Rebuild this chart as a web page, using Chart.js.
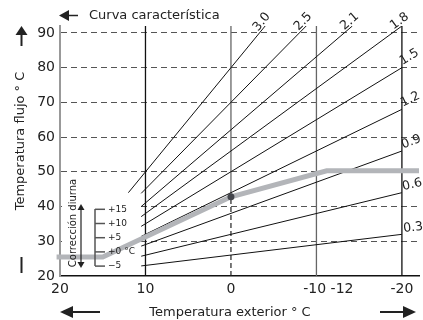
<!DOCTYPE html>
<html>
<head>
<meta charset="utf-8">
<script src="https://cdn.jsdelivr.net/npm/chart.js@4.4.1/dist/chart.umd.min.js"></script>
<style>
  html, body { margin: 0; padding: 0; background: #fff; }
  #wrap { width: 423px; height: 320px; }
</style>
</head>
<body>
<div id="wrap"><canvas id="heatingChart" width="423" height="320"></canvas></div>
<script>
// heating curves: slope label, start / end points (outdoor °C, flow °C)
const curveLabels = ["3.0", "2.5", "2.1", "1.8", "1.5", "1.2", "0.9", "0.6", "0.3"];
const curveStartOutdoor = [12, 10.5, 10.5, 10.5, 10.5, 10.5, 10.5, 10.5, 10.5];
const curveStartFlow = [44, 43.8, 40, 37.1, 34.3, 31.4, 28.6, 25.7, 22.9];
const curveEndOutdoor = [-4, -8.8, -14.2, -20, -20, -20, -20, -20, -20];
const curveEndFlow = [92, 92, 92, 92, 80, 68, 56, 44, 32];

// thick grey example curve
const setOutdoor = [20.4, 15, 0, -11.2, -22];
const setFlow = [25.5, 25.5, 42.8, 50.3, 50.3];
const pointOutdoor = [0];
const pointFlow = [42.8];

// vertical reference lines
const refOutdoor = [10, 0, -10, -20];

const xTickValues = [20, 10, 0, -11.4, -20];
const xTickLabels = ["20", "10", "0", "-10 -12", "-20"];
const yTickValues = [20, 30, 40, 50, 60, 70, 80, 90];
const correctionLabels = ["+15", "+10", "+5", "+0 °C", "\u22125"];

const FONT = "'DejaVu Sans', sans-serif";

const datasets = [];
datasets.push({
    data: pointOutdoor.map((x, i) => ({ x, y: pointFlow[i] })),
    showLine: false, pointRadius: 3.5, pointBackgroundColor: "#44464c",
    pointBorderWidth: 0, order: 0,
});
datasets.push({
    data: setOutdoor.map((x, i) => ({ x, y: setFlow[i] })),
    borderColor: "#b3b5b9", borderWidth: 5, pointRadius: 0,
    clip: { left: 5, top: 0, right: 0, bottom: 0 }, order: 1,
});
curveLabels.forEach((lbl, i) => {
    datasets.push({
        label: lbl,
        data: [
            { x: curveStartOutdoor[i], y: curveStartFlow[i] },
            { x: curveEndOutdoor[i], y: curveEndFlow[i] },
        ],
        borderColor: "#111", borderWidth: 1, pointRadius: 0, order: 2,
    });
});
refOutdoor.forEach((x) => {
    if (x === 0) {
        datasets.push({
            data: [{ x, y: 20 }, { x, y: pointFlow[0] }],
            borderColor: "#222", borderWidth: 1.2, borderDash: [5, 3], pointRadius: 0, order: 3,
        });
        datasets.push({
            data: [{ x, y: pointFlow[0] }, { x, y: 92 }],
            borderColor: "#666", borderWidth: 1.3, pointRadius: 0, order: 3,
        });
    } else {
        datasets.push({
            data: [{ x, y: 20 }, { x, y: 92 }],
            borderColor: x === -10 ? "#666" : "#111", borderWidth: 1.3, pointRadius: 0, order: 3,
        });
    }
});

function arrowHead(ctx, x, y, dir, len, half) {
    // dir: "left" | "right" | "up" | "down"
    ctx.beginPath();
    if (dir === "left") { ctx.moveTo(x, y); ctx.lineTo(x + len, y - half); ctx.lineTo(x + len, y + half); }
    if (dir === "right") { ctx.moveTo(x, y); ctx.lineTo(x - len, y - half); ctx.lineTo(x - len, y + half); }
    if (dir === "up") { ctx.moveTo(x, y); ctx.lineTo(x - half, y + len); ctx.lineTo(x + half, y + len); }
    if (dir === "down") { ctx.moveTo(x, y); ctx.lineTo(x - half, y - len); ctx.lineTo(x + half, y - len); }
    ctx.closePath();
    ctx.fill();
}

const overlay = {
    id: "overlay",
    beforeDatasetsDraw(chart) {
        const { ctx, chartArea: a } = chart;
        ctx.save();
        ctx.fillStyle = "#fff";
        ctx.fillRect(a.left + 2, 183, 79, 89);
        ctx.restore();
    },
    afterDatasetsDraw(chart) {
        const { ctx, chartArea: a, scales: { x: xs, y: ys } } = chart;
        ctx.save();
        ctx.fillStyle = "#222";
        ctx.strokeStyle = "#222";

        // curve labels along each line
        ctx.font = "12.5px " + FONT;
        ctx.textAlign = "left";
        ctx.textBaseline = "alphabetic";
        curveLabels.forEach((lbl, i) => {
            const x0 = xs.getPixelForValue(curveStartOutdoor[i]);
            const y0 = ys.getPixelForValue(curveStartFlow[i]);
            const x1 = xs.getPixelForValue(curveEndOutdoor[i]);
            const y1 = ys.getPixelForValue(curveEndFlow[i]);
            const ang = Math.atan2(y1 - y0, x1 - x0);
            const off = curveEndOutdoor[i] === -20 && curveEndFlow[i] < 90 ? 2 : -9;
            ctx.save();
            ctx.translate(x1 + Math.cos(ang) * off, y1 + Math.sin(ang) * off);
            ctx.rotate(ang);
            ctx.fillText(lbl, 0, -2);
            ctx.restore();
        });

        // day correction inset
        ctx.font = "10px " + FONT;
        ctx.save();
        ctx.translate(a.left + 13, 223);
        ctx.rotate(-Math.PI / 2);
        ctx.textAlign = "center";
        ctx.textBaseline = "middle";
        ctx.fillText("Corrección diurna", 0, 0);
        ctx.restore();
        ctx.lineWidth = 1.2;
        ctx.beginPath();
        ctx.moveTo(a.left + 21, 208);
        ctx.lineTo(a.left + 21, 263);
        ctx.stroke();
        arrowHead(ctx, a.left + 21, 204, "up", 6, 3.5);
        arrowHead(ctx, a.left + 21, 268, "down", 6, 3.5);

        ctx.strokeStyle = "#555";
        ctx.lineWidth = 1.5;
        ctx.beginPath();
        ctx.moveTo(a.left + 35, 209);
        ctx.lineTo(a.left + 35, 266);
        ctx.stroke();
        ctx.font = "9px " + FONT;
        ctx.textAlign = "left";
        ctx.textBaseline = "middle";
        correctionLabels.forEach((t, i) => {
            const ty = 209.3 + i * 14.2;
            ctx.beginPath();
            ctx.moveTo(a.left + 35, ty);
            ctx.lineTo(a.left + 45, ty);
            ctx.stroke();
            ctx.fillText(t, a.left + 48, ty);
        });
        ctx.restore();
    },
    afterDraw(chart) {
        const { ctx } = chart;
        ctx.save();
        ctx.fillStyle = "#222";
        ctx.strokeStyle = "#222";
        ctx.font = "13px " + FONT;
        ctx.textBaseline = "middle";

        // top legend
        arrowHead(ctx, 59, 15.5, "left", 10, 5.5);
        ctx.lineWidth = 1.5;
        ctx.beginPath(); ctx.moveTo(68, 15.5); ctx.lineTo(78, 15.5); ctx.stroke();
        ctx.textAlign = "left";
        ctx.fillText("Curva característica", 89, 15.5);

        // y title and arrows
        ctx.save();
        ctx.translate(21, 141);
        ctx.rotate(-Math.PI / 2);
        ctx.textAlign = "center";
        ctx.fillText("Temperatura flujo ° C", 0, 0);
        ctx.restore();
        arrowHead(ctx, 21.5, 26, "up", 9, 6);
        ctx.lineWidth = 2;
        ctx.beginPath(); ctx.moveTo(21.5, 34); ctx.lineTo(21.5, 46); ctx.stroke();
        ctx.beginPath(); ctx.moveTo(21.5, 257); ctx.lineTo(21.5, 273); ctx.stroke();

        // x title and arrows
        ctx.textAlign = "center";
        ctx.fillText("Temperatura exterior ° C", 230, 313);
        arrowHead(ctx, 60, 312, "left", 13, 6);
        ctx.beginPath(); ctx.moveTo(72, 312); ctx.lineTo(100, 312); ctx.stroke();
        arrowHead(ctx, 416, 312, "right", 13, 6);
        ctx.beginPath(); ctx.moveTo(380, 312); ctx.lineTo(404, 312); ctx.stroke();
        ctx.restore();
    },
};

new Chart(document.getElementById("heatingChart").getContext("2d"), {
    type: "line",
    data: { datasets },
    options: {
        responsive: false,
        animation: false,
        layout: { padding: { top: 26, left: 0, right: 0, bottom: 0 } },
        plugins: { legend: { display: false }, tooltip: { enabled: false } },
        scales: {
            x: {
                type: "linear",
                reverse: true,
                min: -22,
                max: 20,
                afterBuildTicks: (s) => { s.ticks = xTickValues.map((v) => ({ value: v })); },
                afterFit: (s) => { s.height = 44; },
                grid: { display: false, drawTicks: false },
                border: { display: true, color: "#111", width: 1.5 },
                ticks: {
                    autoSkip: false, maxRotation: 0, padding: 5,
                    color: "#222", font: { family: FONT, size: 14 },
                    callback: (v, i) => xTickLabels[i],
                },
            },
            y: {
                min: 20,
                max: 92,
                afterBuildTicks: (s) => { s.ticks = yTickValues.map((v) => ({ value: v })); },
                afterFit: (s) => { s.width = 60; },
                grid: {
                    drawTicks: false,
                    color: (c) => (c.tick && c.tick.value === 20 ? "rgba(0,0,0,0)" : "#555"),
                    lineWidth: 1,
                },
                border: { display: true, color: "#999", width: 2, dash: [6, 4] },
                ticks: {
                    padding: 5, color: "#222", font: { family: FONT, size: 14 },
                },
            },
        },
    },
    plugins: [overlay],
});
</script>
</body>
</html>
